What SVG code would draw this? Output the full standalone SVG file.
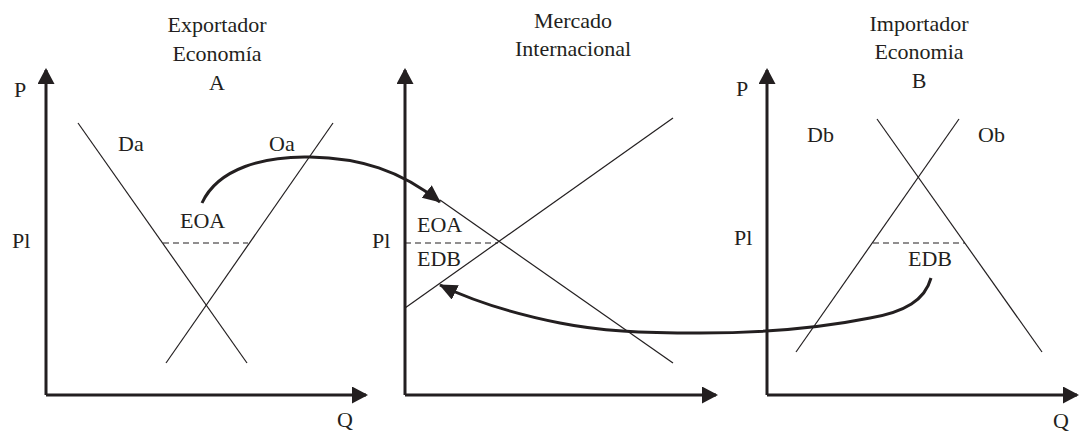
<svg xmlns="http://www.w3.org/2000/svg" width="1080" height="433" viewBox="0 0 1080 433">
<style>
text{font-family:"Liberation Serif","Times New Roman",serif;font-size:22px;fill:#231f20}
.ax{stroke:#231f20;stroke-width:3;fill:none}
.ln{stroke:#231f20;stroke-width:1.2;fill:none}
.ds{stroke:#231f20;stroke-width:1.2;stroke-dasharray:6,4;fill:none}
.cv{stroke:#231f20;stroke-width:3;fill:none}
.mid{text-anchor:middle}
</style>
<defs>
<marker id="ah" markerUnits="userSpaceOnUse" markerWidth="20" markerHeight="18" refX="17" refY="8" orient="auto">
<path d="M0,0 L18,8 L0,16 z" fill="#231f20"/>
</marker>
<marker id="axh" markerUnits="userSpaceOnUse" markerWidth="18" markerHeight="18" refX="14" refY="8.5" orient="auto">
<path d="M0,0 L16,8.5 L0,17 z" fill="#231f20"/>
</marker>
</defs>
<rect width="1080" height="433" fill="#fff"/>
<g id="panelA">
<text class="mid" x="217" y="32">Exportador</text>
<text class="mid" x="217" y="61">Economía</text>
<text class="mid" x="217" y="90">A</text>
<path class="ax" d="M46,395 V70" marker-end="url(#axh)"/>
<path class="ax" d="M46,395 H366" marker-end="url(#axh)"/>
<text x="14" y="97">P</text>
<text x="12" y="248">Pl</text>
<text x="337" y="427">Q</text>
<line class="ln" x1="78" y1="123" x2="247" y2="363"/>
<line class="ln" x1="333" y1="123" x2="166" y2="363"/>
<line class="ds" x1="163" y1="243" x2="248" y2="243"/>
<text x="118" y="151">Da</text>
<text x="269" y="151">Oa</text>
<text x="180" y="228">EOA</text>
</g>
<g id="panelM">
<text class="mid" x="573" y="28">Mercado</text>
<text class="mid" x="573" y="56">Internacional</text>
<path class="ax" d="M405,395 V70" marker-end="url(#axh)"/>
<path class="ax" d="M405,395 H716" marker-end="url(#axh)"/>
<text x="372" y="248">Pl</text>
<line class="ln" x1="405" y1="308" x2="673" y2="118"/>
<line class="ln" x1="440" y1="200" x2="673" y2="363"/>
<line class="ds" x1="405" y1="243" x2="498" y2="243"/>
<text x="417" y="232">EOA</text>
<text x="417" y="266">EDB</text>
</g>
<g id="panelB">
<text class="mid" x="919" y="31">Importador</text>
<text class="mid" x="919" y="59">Economia</text>
<text class="mid" x="919" y="88">B</text>
<path class="ax" d="M767,395 V70" marker-end="url(#axh)"/>
<path class="ax" d="M767,395 H1077" marker-end="url(#axh)"/>
<text x="736" y="96">P</text>
<text x="734" y="245">Pl</text>
<text x="1053" y="428">Q</text>
<line class="ln" x1="877" y1="119" x2="1042" y2="352"/>
<line class="ln" x1="959" y1="119" x2="796" y2="352"/>
<line class="ds" x1="873" y1="243" x2="965" y2="243"/>
<text x="807" y="142">Db</text>
<text x="978" y="142">Ob</text>
<text x="908" y="266">EDB</text>
</g>
<g id="connectors">
<path class="cv" d="M202,203 C218,168 265,156 310,157 C360,158 400,170 440,202" marker-end="url(#ah)"/>
<path class="cv" d="M931,278 C925,300 905,312 870,318 C820,328 760,333 700,333 C640,333 600,331 560,323 C515,314 475,302 440,285" marker-end="url(#ah)"/>
</g>
</svg>
